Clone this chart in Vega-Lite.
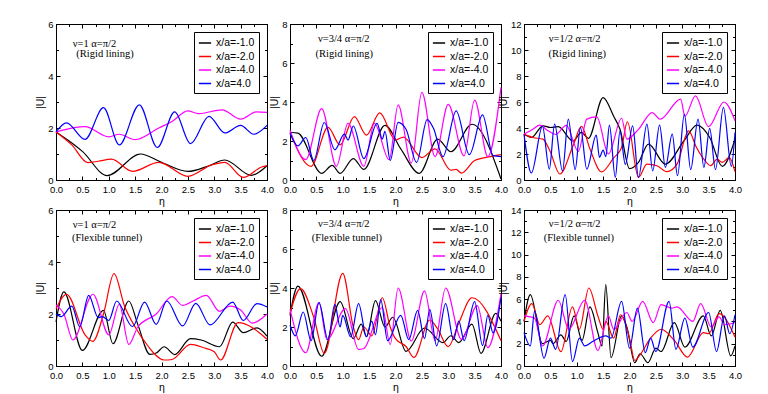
{
"$schema":"https://vega.github.io/schema/vega-lite/v6.json",
"padding":{"left":35,"top":18,"right":0,"bottom":0},
"config":{
 "view":{"stroke":"#000","strokeWidth":1},
 "axis":{"labelFont":"Liberation Sans","labelFontSize":9.5,"labelColor":"#000","tickColor":"#000","domainColor":"#000","titleFont":"Liberation Sans","titleFontSize":10.5,"titleFontWeight":"normal","titleColor":"#000","grid":false,"labelPadding":7,"titlePadding":2,"labelFlush":false,"labelOverlap":false},
 "axisX":{"labelPadding":8.5,"titlePadding":1},
 "legend":{"orient":"top-right","offset":8,"strokeColor":"#000","padding":4,"fillColor":"#fff","labelFont":"Liberation Sans","labelFontSize":10.5,"labelColor":"#000","symbolType":"stroke","symbolSize":150,"symbolStrokeWidth":1.5,"rowPadding":0.5,"labelOffset":4,"labelLimit":0},
 "text":{"font":"Liberation Serif","fontSize":10.5,"color":"#000"}
},
"datasets":{
"p1":[
{"s":"x/a=-1.0","x":0,"y":1.85},{"s":"x/a=-1.0","x":0.25,"y":1.5},{"s":"x/a=-1.0","x":0.5,"y":1.1},{"s":"x/a=-1.0","x":0.97,"y":0.17},{"s":"x/a=-1.0","x":1.6,"y":1.0},{"s":"x/a=-1.0","x":2.0,"y":0.68},{"s":"x/a=-1.0","x":2.5,"y":0.33},{"s":"x/a=-1.0","x":2.9,"y":0.55},{"s":"x/a=-1.0","x":3.2,"y":0.77},{"s":"x/a=-1.0","x":3.7,"y":0.18},{"s":"x/a=-1.0","x":4.0,"y":0.55},
{"s":"x/a=-2.0","x":0,"y":1.85},{"s":"x/a=-2.0","x":0.3,"y":1.35},{"s":"x/a=-2.0","x":0.6,"y":0.67},{"s":"x/a=-2.0","x":0.8,"y":0.72},{"s":"x/a=-2.0","x":1.05,"y":0.8},{"s":"x/a=-2.0","x":1.45,"y":0.33},{"s":"x/a=-2.0","x":1.95,"y":0.68},{"s":"x/a=-2.0","x":2.5,"y":0.14},{"s":"x/a=-2.0","x":2.95,"y":0.58},{"s":"x/a=-2.0","x":3.2,"y":0.68},{"s":"x/a=-2.0","x":3.55,"y":0.1},{"s":"x/a=-2.0","x":3.9,"y":0.5},{"s":"x/a=-2.0","x":4.0,"y":0.55},
{"s":"x/a=-4.0","x":0,"y":1.85},{"s":"x/a=-4.0","x":0.55,"y":2.05},{"s":"x/a=-4.0","x":1.0,"y":1.66},{"s":"x/a=-4.0","x":1.2,"y":1.76},{"s":"x/a=-4.0","x":1.5,"y":1.55},{"s":"x/a=-4.0","x":1.95,"y":2.0},{"s":"x/a=-4.0","x":2.2,"y":2.25},{"s":"x/a=-4.0","x":2.5,"y":2.66},{"s":"x/a=-4.0","x":2.7,"y":2.55},{"s":"x/a=-4.0","x":3.15,"y":2.7},{"s":"x/a=-4.0","x":3.5,"y":2.34},{"s":"x/a=-4.0","x":3.8,"y":2.62},{"s":"x/a=-4.0","x":4.0,"y":2.6},
{"s":"x/a=4.0","x":0,"y":1.85},{"s":"x/a=4.0","x":0.2,"y":2.2},{"s":"x/a=4.0","x":0.55,"y":1.56},{"s":"x/a=4.0","x":0.9,"y":2.78},{"s":"x/a=4.0","x":1.2,"y":1.35},{"s":"x/a=4.0","x":1.58,"y":2.89},{"s":"x/a=4.0","x":1.92,"y":1.25},{"s":"x/a=4.0","x":2.25,"y":2.62},{"s":"x/a=4.0","x":2.55,"y":1.4},{"s":"x/a=4.0","x":2.9,"y":2.45},{"s":"x/a=4.0","x":3.2,"y":1.81},{"s":"x/a=4.0","x":3.5,"y":2.1},{"s":"x/a=4.0","x":3.75,"y":1.76},{"s":"x/a=4.0","x":4.0,"y":2.1}
],
"p2":[
{"s":"x/a=-1.0","x":0,"y":2.45},{"s":"x/a=-1.0","x":0.15,"y":2.4},{"s":"x/a=-1.0","x":0.6,"y":0.34},{"s":"x/a=-1.0","x":0.8,"y":0.75},{"s":"x/a=-1.0","x":0.95,"y":0.34},{"s":"x/a=-1.0","x":1.2,"y":1.1},{"s":"x/a=-1.0","x":1.4,"y":0.54},{"s":"x/a=-1.0","x":1.8,"y":2.8},{"s":"x/a=-1.0","x":2.1,"y":1.6},{"s":"x/a=-1.0","x":2.45,"y":0.34},{"s":"x/a=-1.0","x":2.8,"y":2.1},{"s":"x/a=-1.0","x":3.05,"y":1.45},{"s":"x/a=-1.0","x":3.45,"y":2.86},{"s":"x/a=-1.0","x":4.0,"y":0.05},
{"s":"x/a=-2.0","x":0,"y":2.45},{"s":"x/a=-2.0","x":0.4,"y":0.7},{"s":"x/a=-2.0","x":0.72,"y":2.7},{"s":"x/a=-2.0","x":0.95,"y":1.8},{"s":"x/a=-2.0","x":1.22,"y":3.25},{"s":"x/a=-2.0","x":1.45,"y":2.3},{"s":"x/a=-2.0","x":1.7,"y":3.44},{"s":"x/a=-2.0","x":2.0,"y":2.05},{"s":"x/a=-2.0","x":2.15,"y":2.2},{"s":"x/a=-2.0","x":2.5,"y":1.15},{"s":"x/a=-2.0","x":2.75,"y":1.6},{"s":"x/a=-2.0","x":3.05,"y":0.5},{"s":"x/a=-2.0","x":3.15,"y":0.55},{"s":"x/a=-2.0","x":3.25,"y":0.35},{"s":"x/a=-2.0","x":3.5,"y":1.0},{"s":"x/a=-2.0","x":3.8,"y":1.2},{"s":"x/a=-2.0","x":4.0,"y":1.3},
{"s":"x/a=-4.0","x":0,"y":2.55},{"s":"x/a=-4.0","x":0.3,"y":1.05},{"s":"x/a=-4.0","x":0.6,"y":3.66},{"s":"x/a=-4.0","x":0.88,"y":0.7},{"s":"x/a=-4.0","x":1.1,"y":2.9},{"s":"x/a=-4.0","x":1.4,"y":0.7},{"s":"x/a=-4.0","x":1.6,"y":2.9},{"s":"x/a=-4.0","x":1.88,"y":1.04},{"s":"x/a=-4.0","x":2.05,"y":3.85},{"s":"x/a=-4.0","x":2.3,"y":0.87},{"s":"x/a=-4.0","x":2.5,"y":4.49},{"s":"x/a=-4.0","x":2.75,"y":1.2},{"s":"x/a=-4.0","x":3.0,"y":3.88},{"s":"x/a=-4.0","x":3.3,"y":1.24},{"s":"x/a=-4.0","x":3.5,"y":4.1},{"s":"x/a=-4.0","x":3.75,"y":1.2},{"s":"x/a=-4.0","x":4.0,"y":4.75},
{"s":"x/a=4.0","x":0,"y":2.4},{"s":"x/a=4.0","x":0.15,"y":1.75},{"s":"x/a=4.0","x":0.3,"y":2.18},{"s":"x/a=4.0","x":0.45,"y":1.0},{"s":"x/a=4.0","x":0.65,"y":2.95},{"s":"x/a=4.0","x":0.85,"y":1.55},{"s":"x/a=4.0","x":1.03,"y":2.35},{"s":"x/a=4.0","x":1.1,"y":2.05},{"s":"x/a=4.0","x":1.2,"y":2.77},{"s":"x/a=4.0","x":1.4,"y":1.1},{"s":"x/a=4.0","x":1.65,"y":2.9},{"s":"x/a=4.0","x":1.75,"y":2.1},{"s":"x/a=4.0","x":1.8,"y":2.5},{"s":"x/a=4.0","x":1.9,"y":1.0},{"s":"x/a=4.0","x":2.05,"y":2.96},{"s":"x/a=4.0","x":2.2,"y":2.6},{"s":"x/a=4.0","x":2.4,"y":0.9},{"s":"x/a=4.0","x":2.6,"y":3.1},{"s":"x/a=4.0","x":2.72,"y":2.65},{"s":"x/a=4.0","x":2.9,"y":1.2},{"s":"x/a=4.0","x":3.15,"y":3.54},{"s":"x/a=4.0","x":3.4,"y":1.3},{"s":"x/a=4.0","x":3.65,"y":3.34},{"s":"x/a=4.0","x":3.85,"y":1.25},{"s":"x/a=4.0","x":4.0,"y":1.2}
],
"p3":[
{"s":"x/a=-1.0","x":0,"y":3.53},{"s":"x/a=-1.0","x":0.14,"y":3.27},{"s":"x/a=-1.0","x":0.36,"y":4.17},{"s":"x/a=-1.0","x":0.5,"y":4.04},{"s":"x/a=-1.0","x":0.65,"y":4.1},{"s":"x/a=-1.0","x":0.93,"y":3.0},{"s":"x/a=-1.0","x":1.09,"y":3.66},{"s":"x/a=-1.0","x":1.22,"y":3.2},{"s":"x/a=-1.0","x":1.5,"y":6.34},{"s":"x/a=-1.0","x":1.7,"y":4.9},{"s":"x/a=-1.0","x":1.82,"y":3.9},{"s":"x/a=-1.0","x":2.0,"y":0.87},{"s":"x/a=-1.0","x":2.17,"y":1.35},{"s":"x/a=-1.0","x":2.36,"y":2.76},{"s":"x/a=-1.0","x":2.68,"y":1.22},{"s":"x/a=-1.0","x":3.03,"y":3.0},{"s":"x/a=-1.0","x":3.28,"y":4.22},{"s":"x/a=-1.0","x":3.52,"y":3.27},{"s":"x/a=-1.0","x":3.76,"y":1.05},{"s":"x/a=-1.0","x":4.0,"y":3.14},
{"s":"x/a=-2.0","x":0,"y":3.53},{"s":"x/a=-2.0","x":0.17,"y":3.27},{"s":"x/a=-2.0","x":0.36,"y":3.14},{"s":"x/a=-2.0","x":0.49,"y":2.25},{"s":"x/a=-2.0","x":0.68,"y":0.46},{"s":"x/a=-2.0","x":0.93,"y":2.63},{"s":"x/a=-2.0","x":1.09,"y":4.12},{"s":"x/a=-2.0","x":1.25,"y":2.38},{"s":"x/a=-2.0","x":1.47,"y":0.62},{"s":"x/a=-2.0","x":1.7,"y":1.7},{"s":"x/a=-2.0","x":1.85,"y":2.5},{"s":"x/a=-2.0","x":1.96,"y":4.48},{"s":"x/a=-2.0","x":2.17,"y":0.2},{"s":"x/a=-2.0","x":2.33,"y":1.22},{"s":"x/a=-2.0","x":2.52,"y":1.1},{"s":"x/a=-2.0","x":2.71,"y":0.64},{"s":"x/a=-2.0","x":2.9,"y":1.22},{"s":"x/a=-2.0","x":3.12,"y":3.78},{"s":"x/a=-2.0","x":3.27,"y":2.5},{"s":"x/a=-2.0","x":3.41,"y":1.6},{"s":"x/a=-2.0","x":3.54,"y":1.1},{"s":"x/a=-2.0","x":3.66,"y":1.6},{"s":"x/a=-2.0","x":3.76,"y":1.35},{"s":"x/a=-2.0","x":3.89,"y":1.74},{"s":"x/a=-2.0","x":4.0,"y":0.64},
{"s":"x/a=-4.0","x":0,"y":3.53},{"s":"x/a=-4.0","x":0.17,"y":3.91},{"s":"x/a=-4.0","x":0.3,"y":4.22},{"s":"x/a=-4.0","x":0.45,"y":3.8},{"s":"x/a=-4.0","x":0.6,"y":3.5},{"s":"x/a=-4.0","x":0.8,"y":4.2},{"s":"x/a=-4.0","x":1.03,"y":2.2},{"s":"x/a=-4.0","x":1.19,"y":4.68},{"s":"x/a=-4.0","x":1.38,"y":4.85},{"s":"x/a=-4.0","x":1.6,"y":2.0},{"s":"x/a=-4.0","x":1.85,"y":4.75},{"s":"x/a=-4.0","x":1.95,"y":3.14},{"s":"x/a=-4.0","x":2.17,"y":3.9},{"s":"x/a=-4.0","x":2.43,"y":5.19},{"s":"x/a=-4.0","x":2.58,"y":4.68},{"s":"x/a=-4.0","x":2.97,"y":6.22},{"s":"x/a=-4.0","x":3.05,"y":4.9},{"s":"x/a=-4.0","x":3.25,"y":6.47},{"s":"x/a=-4.0","x":3.5,"y":4.1},{"s":"x/a=-4.0","x":3.79,"y":6.0},{"s":"x/a=-4.0","x":4.0,"y":4.55},
{"s":"x/a=4.0","x":0,"y":3.53},{"s":"x/a=4.0","x":0.14,"y":0.54},{"s":"x/a=4.0","x":0.35,"y":4.12},{"s":"x/a=4.0","x":0.48,"y":0.84},{"s":"x/a=4.0","x":0.58,"y":4.3},{"s":"x/a=4.0","x":0.73,"y":0.7},{"s":"x/a=4.0","x":0.84,"y":4.68},{"s":"x/a=4.0","x":0.97,"y":0.8},{"s":"x/a=4.0","x":1.07,"y":4.04},{"s":"x/a=4.0","x":1.19,"y":0.84},{"s":"x/a=4.0","x":1.37,"y":3.45},{"s":"x/a=4.0","x":1.43,"y":1.74},{"s":"x/a=4.0","x":1.5,"y":2.3},{"s":"x/a=4.0","x":1.55,"y":1.8},{"s":"x/a=4.0","x":1.62,"y":4.22},{"s":"x/a=4.0","x":1.73,"y":0.2},{"s":"x/a=4.0","x":1.82,"y":3.78},{"s":"x/a=4.0","x":1.92,"y":1.2},{"s":"x/a=4.0","x":2.06,"y":4.17},{"s":"x/a=4.0","x":2.17,"y":0.2},{"s":"x/a=4.0","x":2.33,"y":4.3},{"s":"x/a=4.0","x":2.44,"y":0.7},{"s":"x/a=4.0","x":2.57,"y":4.22},{"s":"x/a=4.0","x":2.68,"y":0.97},{"s":"x/a=4.0","x":2.81,"y":3.53},{"s":"x/a=4.0","x":2.91,"y":0.33},{"s":"x/a=4.0","x":3.04,"y":5.06},{"s":"x/a=4.0","x":3.16,"y":0.8},{"s":"x/a=4.0","x":3.3,"y":4.68},{"s":"x/a=4.0","x":3.41,"y":0.97},{"s":"x/a=4.0","x":3.52,"y":3.97},{"s":"x/a=4.0","x":3.63,"y":0.8},{"s":"x/a=4.0","x":3.78,"y":5.58},{"s":"x/a=4.0","x":3.93,"y":1.05},{"s":"x/a=4.0","x":4.0,"y":3.66}
],
"p4":[
{"s":"x/a=-1.0","x":0,"y":1.7},{"s":"x/a=-1.0","x":0.15,"y":2.85},{"s":"x/a=-1.0","x":0.5,"y":0.6},{"s":"x/a=-1.0","x":0.9,"y":2.14},{"s":"x/a=-1.0","x":1.08,"y":0.86},{"s":"x/a=-1.0","x":1.38,"y":2.5},{"s":"x/a=-1.0","x":1.55,"y":1.6},{"s":"x/a=-1.0","x":1.78,"y":0.45},{"s":"x/a=-1.0","x":1.9,"y":0.5},{"s":"x/a=-1.0","x":2.05,"y":0.74},{"s":"x/a=-1.0","x":2.25,"y":0.44},{"s":"x/a=-1.0","x":2.55,"y":1.05},{"s":"x/a=-1.0","x":2.75,"y":1.0},{"s":"x/a=-1.0","x":3.1,"y":0.74},{"s":"x/a=-1.0","x":3.35,"y":1.69},{"s":"x/a=-1.0","x":3.55,"y":1.28},{"s":"x/a=-1.0","x":3.81,"y":1.47},{"s":"x/a=-1.0","x":4.0,"y":1.15},
{"s":"x/a=-2.0","x":0,"y":2.2},{"s":"x/a=-2.0","x":0.2,"y":2.76},{"s":"x/a=-2.0","x":0.55,"y":1.2},{"s":"x/a=-2.0","x":0.7,"y":0.95},{"s":"x/a=-2.0","x":0.9,"y":2.0},{"s":"x/a=-2.0","x":1.1,"y":3.55},{"s":"x/a=-2.0","x":1.3,"y":2.3},{"s":"x/a=-2.0","x":1.5,"y":1.5},{"s":"x/a=-2.0","x":1.75,"y":0.75},{"s":"x/a=-2.0","x":1.85,"y":0.5},{"s":"x/a=-2.0","x":2.05,"y":0.23},{"s":"x/a=-2.0","x":2.2,"y":0.25},{"s":"x/a=-2.0","x":2.55,"y":0.83},{"s":"x/a=-2.0","x":2.8,"y":0.7},{"s":"x/a=-2.0","x":3.0,"y":0.55},{"s":"x/a=-2.0","x":3.12,"y":0.23},{"s":"x/a=-2.0","x":3.45,"y":1.67},{"s":"x/a=-2.0","x":4.0,"y":1.03},
{"s":"x/a=-4.0","x":0,"y":2.35},{"s":"x/a=-4.0","x":0.15,"y":2.0},{"s":"x/a=-4.0","x":0.32,"y":1.0},{"s":"x/a=-4.0","x":0.7,"y":2.76},{"s":"x/a=-4.0","x":1.0,"y":1.2},{"s":"x/a=-4.0","x":1.2,"y":2.37},{"s":"x/a=-4.0","x":1.38,"y":0.83},{"s":"x/a=-4.0","x":1.55,"y":1.5},{"s":"x/a=-4.0","x":1.9,"y":2.0},{"s":"x/a=-4.0","x":2.2,"y":2.67},{"s":"x/a=-4.0","x":2.4,"y":2.33},{"s":"x/a=-4.0","x":2.6,"y":2.5},{"s":"x/a=-4.0","x":2.85,"y":2.72},{"s":"x/a=-4.0","x":3.1,"y":2.1},{"s":"x/a=-4.0","x":3.3,"y":2.3},{"s":"x/a=-4.0","x":3.5,"y":2.15},{"s":"x/a=-4.0","x":3.72,"y":1.65},{"s":"x/a=-4.0","x":4.0,"y":2.0},
{"s":"x/a=4.0","x":0,"y":2.0},{"s":"x/a=4.0","x":0.1,"y":1.9},{"s":"x/a=4.0","x":0.3,"y":2.3},{"s":"x/a=4.0","x":0.45,"y":1.51},{"s":"x/a=4.0","x":0.62,"y":2.72},{"s":"x/a=4.0","x":0.8,"y":1.86},{"s":"x/a=4.0","x":0.88,"y":1.9},{"s":"x/a=4.0","x":1.0,"y":1.75},{"s":"x/a=4.0","x":1.15,"y":2.5},{"s":"x/a=4.0","x":1.45,"y":1.51},{"s":"x/a=4.0","x":1.68,"y":2.46},{"s":"x/a=4.0","x":1.9,"y":1.6},{"s":"x/a=4.0","x":2.1,"y":2.5},{"s":"x/a=4.0","x":2.4,"y":1.54},{"s":"x/a=4.0","x":2.65,"y":2.41},{"s":"x/a=4.0","x":2.92,"y":1.58},{"s":"x/a=4.0","x":3.35,"y":2.46},{"s":"x/a=4.0","x":3.55,"y":1.75},{"s":"x/a=4.0","x":3.81,"y":2.4},{"s":"x/a=4.0","x":4.0,"y":2.27}
],
"p5":[
{"s":"x/a=-1.0","x":0,"y":2.6},{"s":"x/a=-1.0","x":0.15,"y":4.1},{"s":"x/a=-1.0","x":0.6,"y":0.5},{"s":"x/a=-1.0","x":0.95,"y":3.3},{"s":"x/a=-1.0","x":1.2,"y":1.4},{"s":"x/a=-1.0","x":1.35,"y":2.15},{"s":"x/a=-1.0","x":1.45,"y":1.5},{"s":"x/a=-1.0","x":1.62,"y":3.35},{"s":"x/a=-1.0","x":1.8,"y":2.0},{"s":"x/a=-1.0","x":1.95,"y":2.5},{"s":"x/a=-1.0","x":2.2,"y":0.75},{"s":"x/a=-1.0","x":2.55,"y":1.95},{"s":"x/a=-1.0","x":2.9,"y":1.2},{"s":"x/a=-1.0","x":3.05,"y":1.55},{"s":"x/a=-1.0","x":3.2,"y":1.2},{"s":"x/a=-1.0","x":3.45,"y":2.15},{"s":"x/a=-1.0","x":3.62,"y":0.65},{"s":"x/a=-1.0","x":3.9,"y":2.7},{"s":"x/a=-1.0","x":4.0,"y":2.3},
{"s":"x/a=-2.0","x":0,"y":2.7},{"s":"x/a=-2.0","x":0.2,"y":3.97},{"s":"x/a=-2.0","x":0.45,"y":2.5},{"s":"x/a=-2.0","x":0.65,"y":0.65},{"s":"x/a=-2.0","x":1.0,"y":4.75},{"s":"x/a=-2.0","x":1.2,"y":2.0},{"s":"x/a=-2.0","x":1.3,"y":1.35},{"s":"x/a=-2.0","x":1.4,"y":2.0},{"s":"x/a=-2.0","x":1.55,"y":1.55},{"s":"x/a=-2.0","x":1.75,"y":3.5},{"s":"x/a=-2.0","x":1.9,"y":2.0},{"s":"x/a=-2.0","x":2.0,"y":1.4},{"s":"x/a=-2.0","x":2.2,"y":1.0},{"s":"x/a=-2.0","x":2.35,"y":0.44},{"s":"x/a=-2.0","x":2.65,"y":2.36},{"s":"x/a=-2.0","x":2.8,"y":1.9},{"s":"x/a=-2.0","x":3.0,"y":0.99},{"s":"x/a=-2.0","x":3.2,"y":2.2},{"s":"x/a=-2.0","x":3.45,"y":3.5},{"s":"x/a=-2.0","x":4.0,"y":1.3},
{"s":"x/a=-4.0","x":0,"y":2.9},{"s":"x/a=-4.0","x":0.3,"y":0.68},{"s":"x/a=-4.0","x":0.55,"y":3.25},{"s":"x/a=-4.0","x":0.7,"y":1.35},{"s":"x/a=-4.0","x":1.05,"y":2.94},{"s":"x/a=-4.0","x":1.3,"y":0.85},{"s":"x/a=-4.0","x":1.4,"y":0.9},{"s":"x/a=-4.0","x":1.75,"y":3.0},{"s":"x/a=-4.0","x":1.9,"y":1.1},{"s":"x/a=-4.0","x":2.05,"y":4.0},{"s":"x/a=-4.0","x":2.3,"y":1.28},{"s":"x/a=-4.0","x":2.55,"y":3.85},{"s":"x/a=-4.0","x":2.75,"y":1.3},{"s":"x/a=-4.0","x":2.95,"y":4.0},{"s":"x/a=-4.0","x":3.25,"y":1.37},{"s":"x/a=-4.0","x":3.55,"y":3.1},{"s":"x/a=-4.0","x":3.75,"y":0.94},{"s":"x/a=-4.0","x":4.0,"y":3.7},
{"s":"x/a=4.0","x":0,"y":2.1},{"s":"x/a=4.0","x":0.1,"y":1.55},{"s":"x/a=4.0","x":0.25,"y":2.77},{"s":"x/a=4.0","x":0.4,"y":1.3},{"s":"x/a=4.0","x":0.55,"y":3.25},{"s":"x/a=4.0","x":0.72,"y":1.35},{"s":"x/a=4.0","x":0.85,"y":3.16},{"s":"x/a=4.0","x":0.95,"y":2.0},{"s":"x/a=4.0","x":1.0,"y":2.6},{"s":"x/a=4.0","x":1.15,"y":1.5},{"s":"x/a=4.0","x":1.3,"y":3.2},{"s":"x/a=4.0","x":1.45,"y":1.5},{"s":"x/a=4.0","x":1.55,"y":2.3},{"s":"x/a=4.0","x":1.62,"y":1.6},{"s":"x/a=4.0","x":1.72,"y":3.4},{"s":"x/a=4.0","x":1.85,"y":1.3},{"s":"x/a=4.0","x":2.1,"y":2.6},{"s":"x/a=4.0","x":2.25,"y":1.35},{"s":"x/a=4.0","x":2.42,"y":2.85},{"s":"x/a=4.0","x":2.55,"y":1.4},{"s":"x/a=4.0","x":2.65,"y":2.9},{"s":"x/a=4.0","x":2.78,"y":1.03},{"s":"x/a=4.0","x":2.95,"y":3.2},{"s":"x/a=4.0","x":3.1,"y":1.35},{"s":"x/a=4.0","x":3.2,"y":2.3},{"s":"x/a=4.0","x":3.3,"y":1.3},{"s":"x/a=4.0","x":3.5,"y":3.3},{"s":"x/a=4.0","x":3.65,"y":1.05},{"s":"x/a=4.0","x":3.75,"y":2.6},{"s":"x/a=4.0","x":3.85,"y":1.7},{"s":"x/a=4.0","x":4.0,"y":3.5}
],
"p6":[
{"s":"x/a=-1.0","x":0,"y":4.0},{"s":"x/a=-1.0","x":0.12,"y":6.4},{"s":"x/a=-1.0","x":0.35,"y":2.0},{"s":"x/a=-1.0","x":0.5,"y":2.3},{"s":"x/a=-1.0","x":0.55,"y":2.0},{"s":"x/a=-1.0","x":0.7,"y":2.8},{"s":"x/a=-1.0","x":0.8,"y":2.2},{"s":"x/a=-1.0","x":0.95,"y":4.49},{"s":"x/a=-1.0","x":1.1,"y":2.3},{"s":"x/a=-1.0","x":1.25,"y":5.3},{"s":"x/a=-1.0","x":1.4,"y":3.0},{"s":"x/a=-1.0","x":1.48,"y":1.8},{"s":"x/a=-1.0","x":1.55,"y":7.3},{"s":"x/a=-1.0","x":1.65,"y":0.75},{"s":"x/a=-1.0","x":1.85,"y":4.5},{"s":"x/a=-1.0","x":1.95,"y":3.5},{"s":"x/a=-1.0","x":2.1,"y":0.3},{"s":"x/a=-1.0","x":2.2,"y":1.1},{"s":"x/a=-1.0","x":2.35,"y":0.3},{"s":"x/a=-1.0","x":2.5,"y":1.6},{"s":"x/a=-1.0","x":2.6,"y":1.3},{"s":"x/a=-1.0","x":2.85,"y":3.9},{"s":"x/a=-1.0","x":3.05,"y":1.7},{"s":"x/a=-1.0","x":3.4,"y":4.5},{"s":"x/a=-1.0","x":3.55,"y":2.7},{"s":"x/a=-1.0","x":3.72,"y":5.0},{"s":"x/a=-1.0","x":3.92,"y":0.9},{"s":"x/a=-1.0","x":4.0,"y":1.8},
{"s":"x/a=-2.0","x":0,"y":4.0},{"s":"x/a=-2.0","x":0.15,"y":5.6},{"s":"x/a=-2.0","x":0.3,"y":3.7},{"s":"x/a=-2.0","x":0.45,"y":4.5},{"s":"x/a=-2.0","x":0.7,"y":1.29},{"s":"x/a=-2.0","x":0.92,"y":5.3},{"s":"x/a=-2.0","x":1.05,"y":3.3},{"s":"x/a=-2.0","x":1.23,"y":7.0},{"s":"x/a=-2.0","x":1.4,"y":4.5},{"s":"x/a=-2.0","x":1.5,"y":3.3},{"s":"x/a=-2.0","x":1.55,"y":4.0},{"s":"x/a=-2.0","x":1.7,"y":2.5},{"s":"x/a=-2.0","x":1.83,"y":4.6},{"s":"x/a=-2.0","x":2.0,"y":2.5},{"s":"x/a=-2.0","x":2.1,"y":0.5},{"s":"x/a=-2.0","x":2.2,"y":1.0},{"s":"x/a=-2.0","x":2.4,"y":2.5},{"s":"x/a=-2.0","x":2.6,"y":3.3},{"s":"x/a=-2.0","x":2.85,"y":2.3},{"s":"x/a=-2.0","x":3.1,"y":0.8},{"s":"x/a=-2.0","x":3.4,"y":3.0},{"s":"x/a=-2.0","x":3.5,"y":2.9},{"s":"x/a=-2.0","x":3.7,"y":4.7},{"s":"x/a=-2.0","x":4.0,"y":2.6},
{"s":"x/a=-4.0","x":0,"y":4.5},{"s":"x/a=-4.0","x":0.2,"y":4.3},{"s":"x/a=-4.0","x":0.35,"y":1.8},{"s":"x/a=-4.0","x":0.65,"y":5.9},{"s":"x/a=-4.0","x":0.85,"y":3.3},{"s":"x/a=-4.0","x":1.15,"y":5.9},{"s":"x/a=-4.0","x":1.4,"y":1.4},{"s":"x/a=-4.0","x":1.6,"y":4.5},{"s":"x/a=-4.0","x":1.7,"y":3.3},{"s":"x/a=-4.0","x":1.95,"y":4.8},{"s":"x/a=-4.0","x":2.05,"y":4.0},{"s":"x/a=-4.0","x":2.25,"y":5.8},{"s":"x/a=-4.0","x":2.45,"y":3.9},{"s":"x/a=-4.0","x":2.6,"y":5.5},{"s":"x/a=-4.0","x":2.8,"y":5.2},{"s":"x/a=-4.0","x":2.9,"y":5.3},{"s":"x/a=-4.0","x":3.2,"y":4.0},{"s":"x/a=-4.0","x":3.35,"y":5.6},{"s":"x/a=-4.0","x":3.55,"y":3.5},{"s":"x/a=-4.0","x":3.7,"y":4.4},{"s":"x/a=-4.0","x":3.8,"y":3.7},{"s":"x/a=-4.0","x":4.0,"y":3.9},
{"s":"x/a=4.0","x":0,"y":3.0},{"s":"x/a=4.0","x":0.12,"y":1.8},{"s":"x/a=4.0","x":0.2,"y":4.9},{"s":"x/a=4.0","x":0.38,"y":0.7},{"s":"x/a=4.0","x":0.5,"y":2.5},{"s":"x/a=4.0","x":0.6,"y":1.5},{"s":"x/a=4.0","x":0.78,"y":6.4},{"s":"x/a=4.0","x":0.92,"y":0.4},{"s":"x/a=4.0","x":1.05,"y":2.5},{"s":"x/a=4.0","x":1.15,"y":1.8},{"s":"x/a=4.0","x":1.3,"y":2.2},{"s":"x/a=4.0","x":1.55,"y":2.7},{"s":"x/a=4.0","x":1.65,"y":2.5},{"s":"x/a=4.0","x":1.85,"y":5.8},{"s":"x/a=4.0","x":2.0,"y":1.6},{"s":"x/a=4.0","x":2.15,"y":5.2},{"s":"x/a=4.0","x":2.3,"y":1.2},{"s":"x/a=4.0","x":2.4,"y":2.5},{"s":"x/a=4.0","x":2.5,"y":1.3},{"s":"x/a=4.0","x":2.75,"y":5.8},{"s":"x/a=4.0","x":2.88,"y":1.5},{"s":"x/a=4.0","x":3.05,"y":4.3},{"s":"x/a=4.0","x":3.2,"y":1.7},{"s":"x/a=4.0","x":3.5,"y":4.8},{"s":"x/a=4.0","x":3.65,"y":1.3},{"s":"x/a=4.0","x":3.8,"y":4.5},{"s":"x/a=4.0","x":3.9,"y":2.9},{"s":"x/a=4.0","x":4.0,"y":4.6}
]
},
"columns":3,
"spacing":{"row":30,"column":23},
"bounds":"flush",
"resolve":{"scale":{"color":"independent"}},
"concat":[
{"width":211,"height":156,"layer":[
 {"data":{"name":"p1"},"mark":{"type":"line","interpolate":"monotone","strokeWidth":1.2},"encoding":{
  "x":{"field":"x","type":"quantitative","scale":{"domain":[0,4]},"axis":{"values":[0,0.25,0.5,0.75,1,1.25,1.5,1.75,2,2.25,2.5,2.75,3,3.25,3.5,3.75,4],"labelExpr":"datum.value % 0.5 == 0 ? format(datum.value, '.1f') : ''","tickSize":{"condition":{"test":"datum.value % 0.5 != 0","value":-2.5},"value":-4},"title":"η"}},
  "y":{"field":"y","type":"quantitative","scale":{"domain":[0,6]},"axis":{"values":[0,1,2,3,4,5,6],"labelExpr":"datum.value % 2 == 0 ? datum.label : ''","tickSize":{"condition":{"test":"datum.value % 2 != 0","value":-2.5},"value":-4},"title":"|U|"}},
  "color":{"field":"s","type":"nominal","scale":{"domain":["x/a=-1.0","x/a=-2.0","x/a=-4.0","x/a=4.0"],"range":["#000000","#ff0000","#ff00ff","#0000ff"]},"legend":{"title":null}}}},
 {"data":{"values":[{"x":0.73,"y":5.23,"t":"ν=1  α=π/2"},{"x":0.93,"y":4.86,"t":"(Rigid lining)"}]},"mark":{"type":"text"},"encoding":{
  "x":{"field":"x","type":"quantitative","scale":{"domain":[0,4]},"axis":{"orient":"top","values":[0,0.25,0.5,0.75,1,1.25,1.5,1.75,2,2.25,2.5,2.75,3,3.25,3.5,3.75,4],"labels":false,"tickSize":{"condition":{"test":"datum.value % 0.5 != 0","value":-2.5},"value":-4},"title":null}},
  "y":{"field":"y","type":"quantitative","scale":{"domain":[0,6]},"axis":{"orient":"right","values":[0,1,2,3,4,5,6],"labels":false,"tickSize":{"condition":{"test":"datum.value % 2 != 0","value":-2.5},"value":-4},"title":null}},
  "text":{"field":"t"}}}
],"resolve":{"axis":{"x":"independent","y":"independent"}}},
{"width":211,"height":156,"layer":[
 {"data":{"name":"p2"},"mark":{"type":"line","interpolate":"monotone","strokeWidth":1.2},"encoding":{
  "x":{"field":"x","type":"quantitative","scale":{"domain":[0,4]},"axis":{"values":[0,0.25,0.5,0.75,1,1.25,1.5,1.75,2,2.25,2.5,2.75,3,3.25,3.5,3.75,4],"labelExpr":"datum.value % 0.5 == 0 ? format(datum.value, '.1f') : ''","tickSize":{"condition":{"test":"datum.value % 0.5 != 0","value":-2.5},"value":-4},"title":"η"}},
  "y":{"field":"y","type":"quantitative","scale":{"domain":[0,8]},"axis":{"values":[0,1,2,3,4,5,6,7,8],"labelExpr":"datum.value % 2 == 0 ? datum.label : ''","tickSize":{"condition":{"test":"datum.value % 2 != 0","value":-2.5},"value":-4},"title":"|U|"}},
  "color":{"field":"s","type":"nominal","scale":{"domain":["x/a=-1.0","x/a=-2.0","x/a=-4.0","x/a=4.0"],"range":["#000000","#ff0000","#ff00ff","#0000ff"]},"legend":{"title":null}}}},
 {"data":{"values":[{"x":1.02,"y":7.22,"t":"ν=3/4  α=π/2"},{"x":1.03,"y":6.46,"t":"(Rigid lining)"}]},"mark":{"type":"text"},"encoding":{
  "x":{"field":"x","type":"quantitative","scale":{"domain":[0,4]},"axis":{"orient":"top","values":[0,0.25,0.5,0.75,1,1.25,1.5,1.75,2,2.25,2.5,2.75,3,3.25,3.5,3.75,4],"labels":false,"tickSize":{"condition":{"test":"datum.value % 0.5 != 0","value":-2.5},"value":-4},"title":null}},
  "y":{"field":"y","type":"quantitative","scale":{"domain":[0,8]},"axis":{"orient":"right","values":[0,1,2,3,4,5,6,7,8],"labels":false,"tickSize":{"condition":{"test":"datum.value % 2 != 0","value":-2.5},"value":-4},"title":null}},
  "text":{"field":"t"}}}
],"resolve":{"axis":{"x":"independent","y":"independent"}}},
{"width":211,"height":156,"layer":[
 {"data":{"name":"p3"},"mark":{"type":"line","interpolate":"monotone","strokeWidth":1.2},"encoding":{
  "x":{"field":"x","type":"quantitative","scale":{"domain":[0,4]},"axis":{"values":[0,0.25,0.5,0.75,1,1.25,1.5,1.75,2,2.25,2.5,2.75,3,3.25,3.5,3.75,4],"labelExpr":"datum.value % 0.5 == 0 ? format(datum.value, '.1f') : ''","tickSize":{"condition":{"test":"datum.value % 0.5 != 0","value":-2.5},"value":-4},"title":"η"}},
  "y":{"field":"y","type":"quantitative","scale":{"domain":[0,12]},"axis":{"values":[0,1,2,3,4,5,6,7,8,9,10,11,12],"labelExpr":"datum.value % 2 == 0 ? datum.label : ''","tickSize":{"condition":{"test":"datum.value % 2 != 0","value":-2.5},"value":-4},"title":"|U|"}},
  "color":{"field":"s","type":"nominal","scale":{"domain":["x/a=-1.0","x/a=-2.0","x/a=-4.0","x/a=4.0"],"range":["#000000","#ff0000","#ff00ff","#0000ff"]},"legend":{"title":null}}}},
 {"data":{"values":[{"x":0.96,"y":10.87,"t":"ν=1/2  α=π/2"},{"x":1.01,"y":9.72,"t":"(Rigid lining)"}]},"mark":{"type":"text"},"encoding":{
  "x":{"field":"x","type":"quantitative","scale":{"domain":[0,4]},"axis":{"orient":"top","values":[0,0.25,0.5,0.75,1,1.25,1.5,1.75,2,2.25,2.5,2.75,3,3.25,3.5,3.75,4],"labels":false,"tickSize":{"condition":{"test":"datum.value % 0.5 != 0","value":-2.5},"value":-4},"title":null}},
  "y":{"field":"y","type":"quantitative","scale":{"domain":[0,12]},"axis":{"orient":"right","values":[0,1,2,3,4,5,6,7,8,9,10,11,12],"labels":false,"tickSize":{"condition":{"test":"datum.value % 2 != 0","value":-2.5},"value":-4},"title":null}},
  "text":{"field":"t"}}}
],"resolve":{"axis":{"x":"independent","y":"independent"}}},
{"width":211,"height":156,"layer":[
 {"data":{"name":"p4"},"mark":{"type":"line","interpolate":"monotone","strokeWidth":1.2},"encoding":{
  "x":{"field":"x","type":"quantitative","scale":{"domain":[0,4]},"axis":{"values":[0,0.25,0.5,0.75,1,1.25,1.5,1.75,2,2.25,2.5,2.75,3,3.25,3.5,3.75,4],"labelExpr":"datum.value % 0.5 == 0 ? format(datum.value, '.1f') : ''","tickSize":{"condition":{"test":"datum.value % 0.5 != 0","value":-2.5},"value":-4},"title":"η"}},
  "y":{"field":"y","type":"quantitative","scale":{"domain":[0,6]},"axis":{"values":[0,1,2,3,4,5,6],"labelExpr":"datum.value % 2 == 0 ? datum.label : ''","tickSize":{"condition":{"test":"datum.value % 2 != 0","value":-2.5},"value":-4},"title":"|U|"}},
  "color":{"field":"s","type":"nominal","scale":{"domain":["x/a=-1.0","x/a=-2.0","x/a=-4.0","x/a=4.0"],"range":["#000000","#ff0000","#ff00ff","#0000ff"]},"legend":{"title":null}}}},
 {"data":{"values":[{"x":0.73,"y":5.41,"t":"ν=1  α=π/2"},{"x":0.97,"y":4.91,"t":"(Flexible tunnel)"}]},"mark":{"type":"text"},"encoding":{
  "x":{"field":"x","type":"quantitative","scale":{"domain":[0,4]},"axis":{"orient":"top","values":[0,0.25,0.5,0.75,1,1.25,1.5,1.75,2,2.25,2.5,2.75,3,3.25,3.5,3.75,4],"labels":false,"tickSize":{"condition":{"test":"datum.value % 0.5 != 0","value":-2.5},"value":-4},"title":null}},
  "y":{"field":"y","type":"quantitative","scale":{"domain":[0,6]},"axis":{"orient":"right","values":[0,1,2,3,4,5,6],"labels":false,"tickSize":{"condition":{"test":"datum.value % 2 != 0","value":-2.5},"value":-4},"title":null}},
  "text":{"field":"t"}}}
],"resolve":{"axis":{"x":"independent","y":"independent"}}},
{"width":211,"height":156,"layer":[
 {"data":{"name":"p5"},"mark":{"type":"line","interpolate":"monotone","strokeWidth":1.2},"encoding":{
  "x":{"field":"x","type":"quantitative","scale":{"domain":[0,4]},"axis":{"values":[0,0.25,0.5,0.75,1,1.25,1.5,1.75,2,2.25,2.5,2.75,3,3.25,3.5,3.75,4],"labelExpr":"datum.value % 0.5 == 0 ? format(datum.value, '.1f') : ''","tickSize":{"condition":{"test":"datum.value % 0.5 != 0","value":-2.5},"value":-4},"title":"η"}},
  "y":{"field":"y","type":"quantitative","scale":{"domain":[0,8]},"axis":{"values":[0,1,2,3,4,5,6,7,8],"labelExpr":"datum.value % 2 == 0 ? datum.label : ''","tickSize":{"condition":{"test":"datum.value % 2 != 0","value":-2.5},"value":-4},"title":"|U|"}},
  "color":{"field":"s","type":"nominal","scale":{"domain":["x/a=-1.0","x/a=-2.0","x/a=-4.0","x/a=4.0"],"range":["#000000","#ff0000","#ff00ff","#0000ff"]},"legend":{"title":null}}}},
 {"data":{"values":[{"x":1.02,"y":7.27,"t":"ν=3/4  α=π/2"},{"x":1.08,"y":6.55,"t":"(Flexible tunnel)"}]},"mark":{"type":"text"},"encoding":{
  "x":{"field":"x","type":"quantitative","scale":{"domain":[0,4]},"axis":{"orient":"top","values":[0,0.25,0.5,0.75,1,1.25,1.5,1.75,2,2.25,2.5,2.75,3,3.25,3.5,3.75,4],"labels":false,"tickSize":{"condition":{"test":"datum.value % 0.5 != 0","value":-2.5},"value":-4},"title":null}},
  "y":{"field":"y","type":"quantitative","scale":{"domain":[0,8]},"axis":{"orient":"right","values":[0,1,2,3,4,5,6,7,8],"labels":false,"tickSize":{"condition":{"test":"datum.value % 2 != 0","value":-2.5},"value":-4},"title":null}},
  "text":{"field":"t"}}}
],"resolve":{"axis":{"x":"independent","y":"independent"}}},
{"width":211,"height":156,"layer":[
 {"data":{"name":"p6"},"mark":{"type":"line","interpolate":"monotone","strokeWidth":1.2},"encoding":{
  "x":{"field":"x","type":"quantitative","scale":{"domain":[0,4]},"axis":{"values":[0,0.25,0.5,0.75,1,1.25,1.5,1.75,2,2.25,2.5,2.75,3,3.25,3.5,3.75,4],"labelExpr":"datum.value % 0.5 == 0 ? format(datum.value, '.1f') : ''","tickSize":{"condition":{"test":"datum.value % 0.5 != 0","value":-2.5},"value":-4},"title":"η"}},
  "y":{"field":"y","type":"quantitative","scale":{"domain":[0,14]},"axis":{"values":[0,1,2,3,4,5,6,7,8,9,10,11,12,13,14],"labelExpr":"datum.value % 2 == 0 ? datum.label : ''","tickSize":{"condition":{"test":"datum.value % 2 != 0","value":-2.5},"value":-4},"title":"|U|"}},
  "color":{"field":"s","type":"nominal","scale":{"domain":["x/a=-1.0","x/a=-2.0","x/a=-4.0","x/a=4.0"],"range":["#000000","#ff0000","#ff00ff","#0000ff"]},"legend":{"title":null}}}},
 {"data":{"values":[{"x":0.96,"y":12.72,"t":"ν=1/2  α=π/2"},{"x":1.04,"y":11.46,"t":"(Flexible tunnel)"}]},"mark":{"type":"text"},"encoding":{
  "x":{"field":"x","type":"quantitative","scale":{"domain":[0,4]},"axis":{"orient":"top","values":[0,0.25,0.5,0.75,1,1.25,1.5,1.75,2,2.25,2.5,2.75,3,3.25,3.5,3.75,4],"labels":false,"tickSize":{"condition":{"test":"datum.value % 0.5 != 0","value":-2.5},"value":-4},"title":null}},
  "y":{"field":"y","type":"quantitative","scale":{"domain":[0,14]},"axis":{"orient":"right","values":[0,1,2,3,4,5,6,7,8,9,10,11,12,13,14],"labels":false,"tickSize":{"condition":{"test":"datum.value % 2 != 0","value":-2.5},"value":-4},"title":null}},
  "text":{"field":"t"}}}
],"resolve":{"axis":{"x":"independent","y":"independent"}}}
]
}
